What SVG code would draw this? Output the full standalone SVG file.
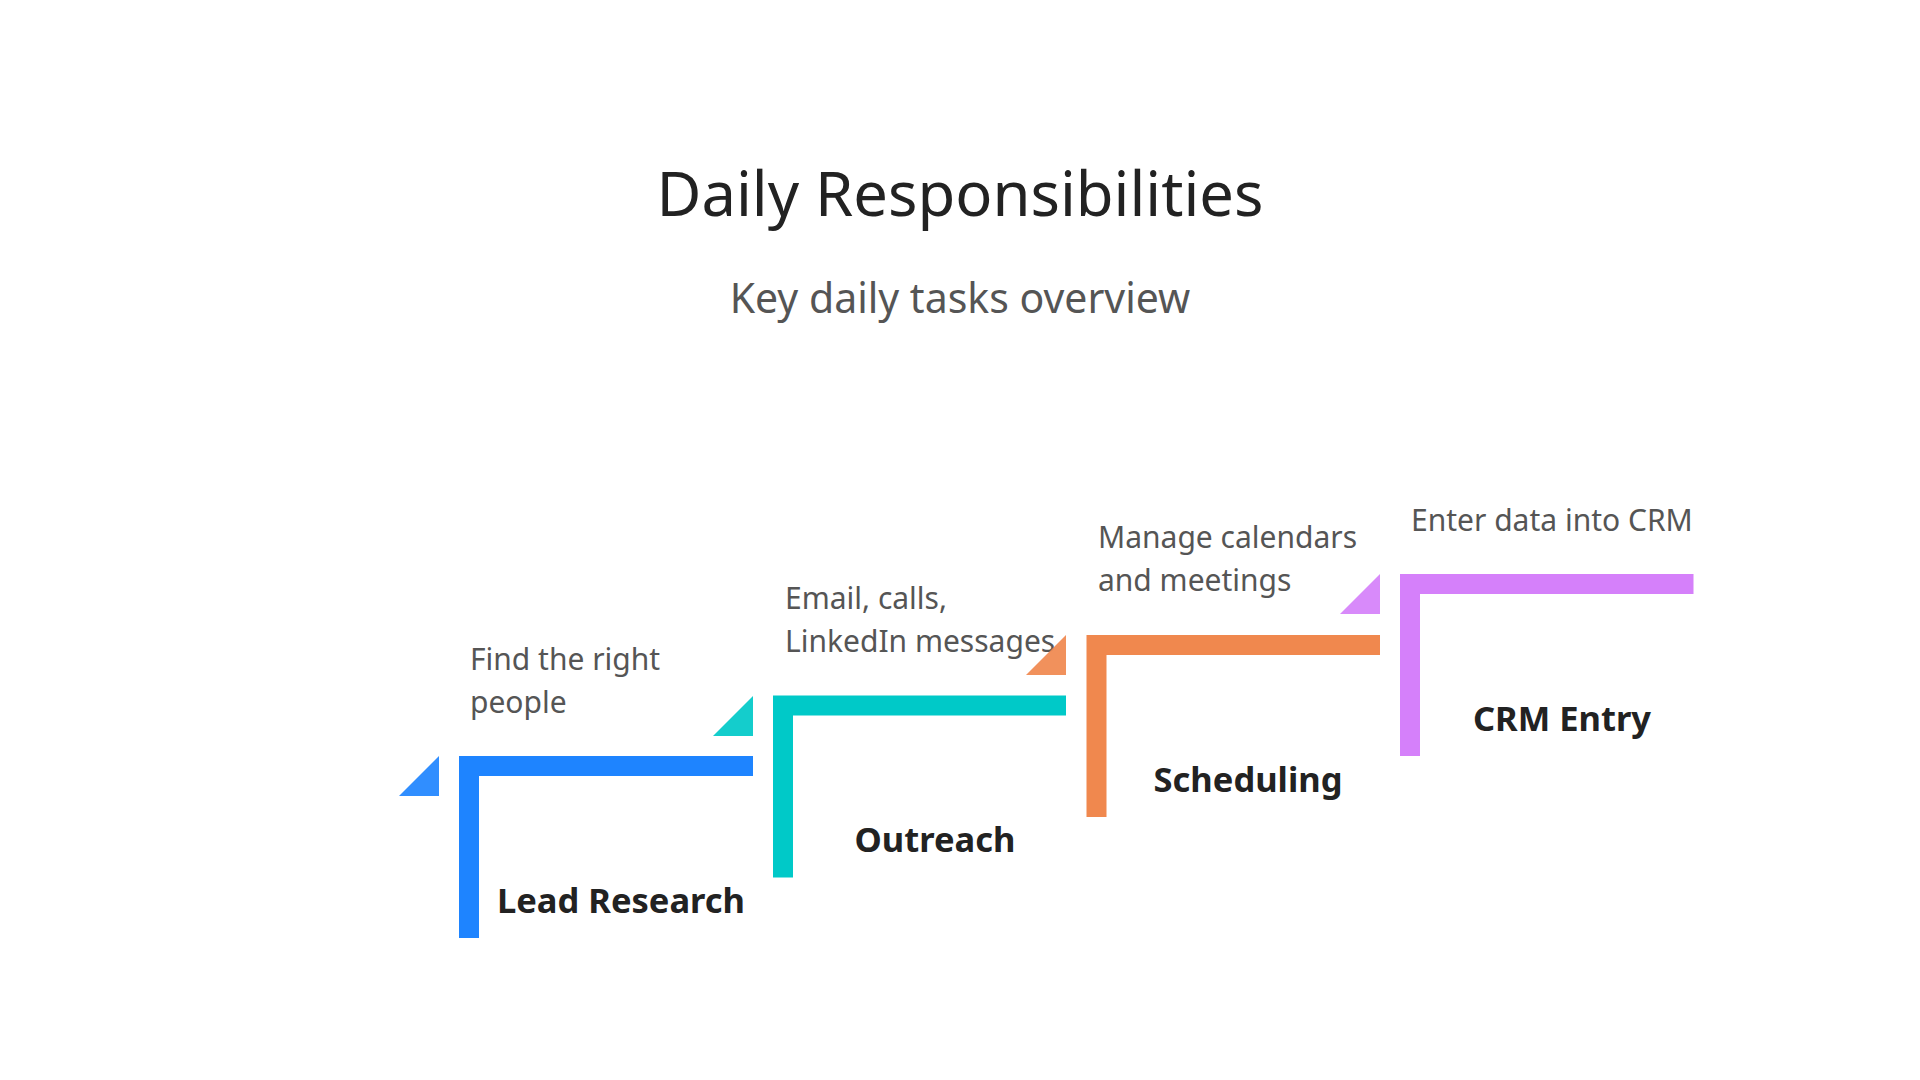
<svg xmlns="http://www.w3.org/2000/svg" width="1920" height="1080" viewBox="0 0 1920 1080">
  <style>
    .title { font-family: "Noto Sans", "Open Sans", sans-serif; font-size: 61.5px; fill: #222222; text-anchor: middle; }
    .subtitle { font-family: "Noto Sans", "Open Sans", sans-serif; font-size: 41px; fill: #555555; text-anchor: middle; }
    .desc { font-family: "Noto Sans", "Open Sans", sans-serif; font-size: 30px; fill: #555555; }
    .label { font-family: "Noto Sans", "Open Sans", sans-serif; font-size: 34.5px; font-weight: bold; fill: #222222; text-anchor: middle; }
    .tri { fill-opacity: 0.92; }
  </style>
  <rect width="1920" height="1080" fill="#ffffff"/>
  <text class="title" x="960" y="216">Daily Responsibilities</text>
  <text class="subtitle" x="960" y="313">Key daily tasks overview</text>

  <g id="connectors"></g>

  <g id="step-lead-research">
    <polygon class="tri" points="439,756 439,796 399,796" fill="#1E84FF"/>
    <path d="M459,756 H753 V776 H479 V938 H459 Z" fill="#1E84FF"/>
    <text class="desc" x="470" y="670">Find the right</text>
    <text class="desc" x="470" y="713">people</text>
    <text class="label" x="621" y="913">Lead Research</text>
  </g>

  <g id="step-outreach">
    <polygon class="tri" points="753,696 753,736 713,736" fill="#00C9C8"/>
    <path d="M773,695.5 H1066 V715.5 H793 V877.5 H773 Z" fill="#00C9C8"/>
    <text class="desc" x="785" y="609">Email, calls,</text>
    <text class="desc" x="785" y="652">LinkedIn messages</text>
    <text class="label" x="935" y="852">Outreach</text>
  </g>

  <g id="step-scheduling">
    <polygon class="tri" points="1066,635 1066,675 1026,675" fill="#F0884E"/>
    <path d="M1086.5,635 H1380 V655 H1106.5 V817 H1086.5 Z" fill="#F0884E"/>
    <text class="desc" x="1098" y="548">Manage calendars</text>
    <text class="desc" x="1098" y="591">and meetings</text>
    <text class="label" x="1248" y="792">Scheduling</text>
  </g>

  <g id="step-crm-entry">
    <polygon class="tri" points="1380,574 1380,614 1340,614" fill="#D580FA"/>
    <path d="M1400,574 H1693.5 V594 H1420 V756 H1400 Z" fill="#D580FA"/>
    <text class="desc" x="1411" y="531">Enter data into CRM</text>
    <text class="label" x="1562" y="731">CRM Entry</text>
  </g>
</svg>
